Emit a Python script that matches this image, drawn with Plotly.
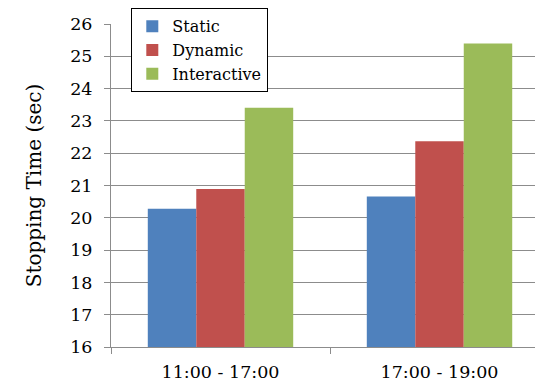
import plotly.graph_objects as go

categories = ["11:00 - 17:00", "17:00 - 19:00"]
static_vals = [20.28, 20.66]
dynamic_vals = [20.89, 22.37]
interactive_vals = [23.41, 25.40]
y_ticks = list(range(16, 27))

font_family = "DejaVu Serif, Liberation Serif, serif"
grid_color = "#8c8c8c"

fig = go.Figure()
fig.add_trace(go.Bar(name="Static", x=categories, y=static_vals, marker=dict(color="#4f81bd", line=dict(width=0))))
fig.add_trace(go.Bar(name="Dynamic", x=categories, y=dynamic_vals, marker=dict(color="#c0504d", line=dict(width=0))))
fig.add_trace(go.Bar(name="Interactive", x=categories, y=interactive_vals, marker=dict(color="#9bbb59", line=dict(width=0))))

fig.update_layout(
    width=535, height=386,
    margin=dict(l=111, r=0, t=24, b=39),
    paper_bgcolor="white", plot_bgcolor="white",
    barmode="group", bargap=0.336, bargroupgap=0,
    font=dict(family=font_family, size=17.5, color="black"),
    showlegend=True,
    legend=dict(
        x=(131 - 111) / 424, y=1 + (24 - 8) / 323, xanchor="left", yanchor="top",
        bordercolor="black", borderwidth=1.3, bgcolor="white",
        font=dict(size=16), tracegroupgap=0,
        itemwidth=30,
    ),
    xaxis=dict(
        range=[-0.5, 1.436], type="category",
        showline=True, linecolor=grid_color, linewidth=1,
        ticks="outside", tickson="boundaries", ticklen=6, tickcolor=grid_color,
        showgrid=False, tickfont=dict(size=17.5), ticklabelstandoff=9,
    ),
    yaxis=dict(
        range=[16, 26], tickvals=y_ticks,
        showline=True, linecolor=grid_color, linewidth=1,
        ticks="outside", ticklen=6, tickcolor=grid_color,
        showgrid=True, gridcolor=grid_color, gridwidth=1,
        zeroline=False, tickfont=dict(size=17.5),
        ticklabelstandoff=8,
        title=dict(text="Stopping Time (sec)", font=dict(size=20), standoff=23),
    ),
)

fig.write_html(
    "out.html",
    config={"displayModeBar": False},
    post_script="document.body.style.margin='0';document.body.style.overflow='hidden';",
)
